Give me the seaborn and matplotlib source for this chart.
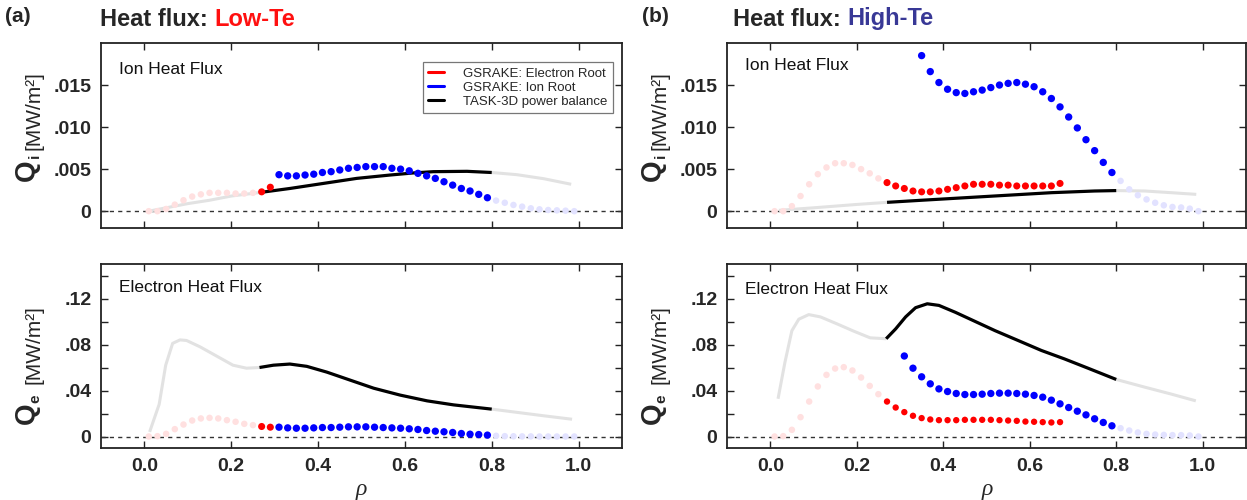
import numpy as np
import pandas as pd
import matplotlib
matplotlib.use("Agg")
import matplotlib.pyplot as plt
import seaborn as sns
from matplotlib.lines import Line2D

# ---------------- data ----------------
RHO_CORE = [0.01, 0.03, 0.05, 0.07, 0.09, 0.11, 0.13, 0.15, 0.17, 0.19, 0.21, 0.23, 0.25]
RHO_EDGE = [0.81, 0.83, 0.85, 0.87, 0.89, 0.91, 0.93, 0.95, 0.97, 0.99]
RHO_ER_A = [0.27, 0.29]
RHO_IR_A = [0.31, 0.33, 0.35, 0.37, 0.39, 0.41, 0.43, 0.45, 0.47, 0.49, 0.51, 0.53, 0.55,
            0.57, 0.59, 0.61, 0.63, 0.65, 0.67, 0.69, 0.71, 0.73, 0.75, 0.77, 0.79]
RHO_ER_B = [0.27, 0.29, 0.31, 0.33, 0.35, 0.37, 0.39, 0.41, 0.43, 0.45, 0.47, 0.49, 0.51,
            0.53, 0.55, 0.57, 0.59, 0.61, 0.63, 0.65, 0.67]
RHO_IR_B_ION = [0.35, 0.37, 0.39, 0.41, 0.43, 0.45, 0.47, 0.49, 0.51, 0.53, 0.55, 0.57,
                0.59, 0.61, 0.63, 0.65, 0.67, 0.69, 0.71, 0.73, 0.75, 0.77, 0.79]
RHO_IR_B_EL = RHO_IR_A

# Panel (a) Low-Te, ion heat flux
a_ion_er_faded = [0, 0, 0.00026, 0.00078, 0.0013, 0.00174, 0.0020, 0.00218, 0.00218, 0.00218, 0.0021, 0.0021, 0.00218]
a_ion_er = [0.0023, 0.00285]
a_ion_ir = [0.00434, 0.0042, 0.0042, 0.0043, 0.0044, 0.0046, 0.0047, 0.0049, 0.0051, 0.0052, 0.0053, 0.0053,
            0.0053, 0.0051, 0.0050, 0.0048, 0.0045, 0.0042, 0.0039, 0.0035, 0.0031, 0.0027, 0.0024, 0.0020, 0.0016]
a_ion_ir_faded = [0.00126, 0.0010, 0.00074, 0.00054, 0.00034, 0.00022, 0.00014, 0.0001, 0.00006, 0]
a_ion_pb_in_rho = [0.01, 0.05, 0.10, 0.15, 0.20, 0.27]
a_ion_pb_in = [0, 0.0004, 0.0009, 0.0013, 0.0018, 0.00225]
a_ion_pb_rho = [0.27, 0.335, 0.412, 0.489, 0.566, 0.62, 0.666, 0.743, 0.80]
a_ion_pb = [0.00225, 0.0027, 0.0033, 0.0039, 0.0043, 0.00455, 0.0047, 0.00474, 0.0046]
a_ion_pb_out_rho = [0.80, 0.858, 0.92, 0.983]
a_ion_pb_out = [0.0046, 0.00434, 0.00386, 0.0032]

# Panel (a) Low-Te, electron heat flux
a_el_er_faded = [0, 0.0003, 0.0023, 0.0064, 0.0104, 0.0139, 0.0157, 0.0162, 0.0157, 0.0142, 0.0128, 0.0110, 0.0099]
a_el_er = [0.0087, 0.0081]
a_el_ir = [0.0081, 0.0075, 0.0072, 0.0072, 0.0075, 0.0078, 0.0078, 0.0081, 0.0084, 0.0084, 0.0084, 0.0081,
           0.0078, 0.0075, 0.0072, 0.0067, 0.0061, 0.0052, 0.0046, 0.0041, 0.0035, 0.0026, 0.0020, 0.0017, 0.0012]
a_el_ir_faded = [0.0006, 0.0003, 0.0002, 0.0001, 0.0001, 0, 0, 0, 0, 0]
a_el_pb_in_rho = [0.012, 0.034, 0.049, 0.065, 0.082, 0.097, 0.128, 0.166, 0.204, 0.235, 0.265]
a_el_pb_in = [0.004, 0.028, 0.062, 0.081, 0.084, 0.0835, 0.078, 0.070, 0.062, 0.0594, 0.060]
a_el_pb_rho = [0.265, 0.297, 0.335, 0.374, 0.42, 0.474, 0.528, 0.589, 0.651, 0.712, 0.80]
a_el_pb = [0.060, 0.062, 0.063, 0.061, 0.056, 0.049, 0.042, 0.036, 0.031, 0.0275, 0.0238]
a_el_pb_out_rho = [0.80, 0.858, 0.92, 0.985]
a_el_pb_out = [0.0238, 0.021, 0.018, 0.015]

# Panel (b) High-Te, ion heat flux
b_ion_er_faded = [0, 0, 0.0006, 0.0018, 0.0032, 0.0044, 0.0052, 0.0057, 0.0057, 0.0055, 0.0050, 0.0045, 0.0039]
b_ion_er = [0.0034, 0.0030, 0.0027, 0.0024, 0.0023, 0.0023, 0.0024, 0.0026, 0.0028, 0.0030, 0.0032,
            0.0032, 0.0032, 0.0031, 0.0031, 0.0030, 0.0030, 0.0030, 0.0030, 0.0030, 0.0033]
b_ion_ir = [0.0185, 0.0166, 0.0153, 0.0145, 0.0141, 0.0140, 0.0142, 0.0144, 0.0147, 0.0150, 0.0152, 0.0153,
            0.0151, 0.0148, 0.0142, 0.0134, 0.0124, 0.0112, 0.0099, 0.0085, 0.0072, 0.0058, 0.0046]
b_ion_ir_faded = [0.0036, 0.0026, 0.0019, 0.0014, 0.0010, 0.0007, 0.0005, 0.00044, 0.0003, 0]
b_ion_pb_in_rho = [0.02, 0.10, 0.20, 0.27]
b_ion_pb_in = [0.0001, 0.0004, 0.0008, 0.00105]
b_ion_pb_rho = [0.27, 0.35, 0.45, 0.55, 0.65, 0.75, 0.80]
b_ion_pb = [0.00105, 0.0013, 0.0016, 0.0019, 0.0022, 0.0024, 0.00245]
b_ion_pb_out_rho = [0.80, 0.866, 0.927, 0.985]
b_ion_pb_out = [0.00245, 0.0024, 0.0022, 0.0020]

# Panel (b) High-Te, electron heat flux
b_el_er_faded = [0, 0.0003, 0.0058, 0.0168, 0.0304, 0.0435, 0.0536, 0.0591, 0.0603, 0.0574, 0.0513, 0.0440, 0.0368]
b_el_er = [0.0304, 0.0252, 0.0212, 0.0180, 0.0160, 0.0148, 0.0142, 0.0142, 0.0142, 0.0145, 0.0145,
           0.0145, 0.0145, 0.0142, 0.0139, 0.0136, 0.0130, 0.0128, 0.0125, 0.0122, 0.0125]
b_el_ir = [0.0700, 0.0594, 0.0519, 0.0458, 0.0414, 0.0391, 0.0374, 0.0365, 0.0365, 0.0368, 0.0374, 0.0377,
           0.0377, 0.0374, 0.0368, 0.0357, 0.0342, 0.0316, 0.0284, 0.0252, 0.0220, 0.0188, 0.0154, 0.0122, 0.0093]
b_el_ir_faded = [0.0072, 0.0052, 0.0035, 0.0023, 0.0017, 0.0014, 0.0012, 0.0012, 0.0009, 0]
b_el_pb_in_rho = [0.018, 0.034, 0.050, 0.066, 0.089, 0.116, 0.154, 0.193, 0.231, 0.268]
b_el_pb_in = [0.0328, 0.0646, 0.092, 0.102, 0.106, 0.104, 0.098, 0.0916, 0.0858, 0.085]
b_el_pb_rho = [0.268, 0.29, 0.313, 0.336, 0.363, 0.39, 0.428, 0.474, 0.52, 0.573, 0.627, 0.68, 0.734, 0.80]
b_el_pb = [0.085, 0.0936, 0.104, 0.112, 0.1154, 0.114, 0.108, 0.100, 0.092, 0.0835, 0.0748, 0.0675, 0.0595, 0.0496]
b_el_pb_out_rho = [0.80, 0.865, 0.926, 0.984]
b_el_pb_out = [0.0496, 0.043, 0.037, 0.031]

X_TICKS = [0.0, 0.2, 0.4, 0.6, 0.8, 1.0]
X_TICKLABELS = ["0.0", "0.2", "0.4", "0.6", "0.8", "1.0"]
ION_TICKS = [0, 0.005, 0.010, 0.015]
ION_TICKLABELS = ["0", ".005", ".010", ".015"]
EL_TICKS = [0, 0.02, 0.04, 0.06, 0.08, 0.10, 0.12, 0.14]
EL_TICKLABELS = ["0", "", ".04", "", ".08", "", ".12", ""]
LEGEND_LABELS = ["GSRAKE: Electron Root", "GSRAKE: Ion Root", "TASK-3D power balance"]

# ---------------- style ----------------
sns.set_theme(style="ticks")
plt.rcParams["font.family"] = ["Liberation Sans", "DejaVu Sans"]

RED = "#ff0000"
BLUE = "#0000ff"
RED_F = "#ffe0e0"
BLUE_F = "#e2e2ff"
GREY = "#e2e2e2"
W, H = 1247, 500

fig = plt.figure(figsize=(W / 100, H / 100), dpi=100)


def add_axes(l, r, t, b):
    return fig.add_axes([l / W, 1 - b / H, (r - l) / W, (b - t) / H])


ax_a_ion = add_axes(101, 622, 43, 228)
ax_a_el = add_axes(101, 622, 264, 448)
ax_b_ion = add_axes(727, 1246, 43, 228)
ax_b_el = add_axes(727, 1246, 264, 448)


def line(ax, x, y, color, lw):
    sns.lineplot(x=x, y=y, ax=ax, color=color, lw=lw, estimator=None, sort=False,
                 solid_capstyle="butt", zorder=2)


def dots(ax, x, y, color, s, z=3):
    sns.scatterplot(x=x, y=y, ax=ax, color=color, s=s, linewidth=0, edgecolor="none", zorder=z)


def panel(ax, pin, pb, pout, erf, er, ir, irf, rho_er, rho_ir, ylim, ticks, ticklabels,
          label, ly, bottom, er_size=26):
    ax.axhline(0, color="#333333", lw=1.0, ls=(0, (3, 3)), zorder=1)
    line(ax, pin[0], pin[1], GREY, 2.2)
    line(ax, pout[0], pout[1], GREY, 2.2)
    line(ax, pb[0], pb[1], "black", 2.3)
    dots(ax, RHO_CORE, erf, RED_F, 22)
    dots(ax, RHO_EDGE, irf, BLUE_F, 22)
    dots(ax, rho_er, er, RED, er_size, 4)
    dots(ax, rho_ir, ir, BLUE, 28, 4)
    ax.set_xlim(-0.1, 1.1)
    ax.set_ylim(*ylim)
    ax.set_xticks(X_TICKS)
    ax.set_yticks(ticks)
    ax.set_yticklabels(ticklabels)
    if bottom:
        ax.set_xticklabels(X_TICKLABELS)
    else:
        ax.set_xticklabels([])
    ax.set_xlabel("")
    ax.set_ylabel("")
    ax.tick_params(direction="in", length=5, width=1.0, top=True, right=True,
                   labelsize=14, pad=7, color="#222222")
    for t in ax.get_xticklabels() + ax.get_yticklabels():
        t.set_fontweight("bold")
    for sp in ax.spines.values():
        sp.set_visible(True)
        sp.set_linewidth(1.3)
        sp.set_color("#222222")
    ax.text(0.034, ly, label, transform=ax.transAxes, fontsize=12.5, va="center", ha="left",
            color="#111111")


panel(ax_a_ion, (a_ion_pb_in_rho, a_ion_pb_in), (a_ion_pb_rho, a_ion_pb), (a_ion_pb_out_rho, a_ion_pb_out),
      a_ion_er_faded, a_ion_er, a_ion_ir, a_ion_ir_faded, RHO_ER_A, RHO_IR_A,
      (-0.002, 0.02), ION_TICKS, ION_TICKLABELS, "Ion Heat Flux", 0.855, False)
panel(ax_a_el, (a_el_pb_in_rho, a_el_pb_in), (a_el_pb_rho, a_el_pb), (a_el_pb_out_rho, a_el_pb_out),
      a_el_er_faded, a_el_er, a_el_ir, a_el_ir_faded, RHO_ER_A, RHO_IR_A,
      (-0.01, 0.15), EL_TICKS, EL_TICKLABELS, "Electron Heat Flux", 0.875, True)
panel(ax_b_ion, (b_ion_pb_in_rho, b_ion_pb_in), (b_ion_pb_rho, b_ion_pb), (b_ion_pb_out_rho, b_ion_pb_out),
      b_ion_er_faded, b_ion_er, b_ion_ir, b_ion_ir_faded, RHO_ER_B, RHO_IR_B_ION,
      (-0.002, 0.02), ION_TICKS, ION_TICKLABELS, "Ion Heat Flux", 0.876, False)
panel(ax_b_el, (b_el_pb_in_rho, b_el_pb_in), (b_el_pb_rho, b_el_pb), (b_el_pb_out_rho, b_el_pb_out),
      b_el_er_faded, b_el_er, b_el_ir, b_el_ir_faded, RHO_ER_B, RHO_IR_B_EL,
      (-0.01, 0.15), EL_TICKS, EL_TICKLABELS, "Electron Heat Flux", 0.86, True, er_size=21)

# legend
handles = [Line2D([], [], color=RED, lw=2.2), Line2D([], [], color=BLUE, lw=2.2),
           Line2D([], [], color="black", lw=2.2)]
leg = ax_a_ion.legend(handles, LEGEND_LABELS, loc="upper right", bbox_to_anchor=(0.983, 0.897),
                      fontsize=9.5, frameon=True, fancybox=False, handlelength=1.2,
                      handletextpad=1.5, labelspacing=0.15, borderpad=0.4, borderaxespad=0)
leg.get_frame().set_edgecolor("#555555")
leg.get_frame().set_linewidth(0.9)


# y labels: big bold Q, small bold subscript, unit text
def ylab(dx, yq, yb, sub):
    fig.text((27 + dx) / W, 1 - yq / H, "Q", rotation=90, fontsize=20, fontweight="bold",
             ha="center", va="center")
    fig.text((35 + dx) / W, 1 - (yq - 14) / H, sub, rotation=90, fontsize=11, fontweight="bold",
             ha="center", va="center")
    fig.text((34 + dx) / W, 1 - yb / H, "[MW/m²]", rotation=90, fontsize=15,
             ha="center", va="center")


ylab(0, 170, 111, "i")
ylab(0, 413, 345, "e")
ylab(626, 170, 111, "i")
ylab(626, 413, 345, "e")

# x labels
for xc in (361, 987):
    fig.text(xc / W, 1 - 489 / H, "ρ", fontsize=17, fontstyle="italic",
             family=["Liberation Serif", "DejaVu Serif"], ha="center", va="center")

# titles
fig.text(5 / W, 1 - 17 / H, "(a)", fontsize=15, fontweight="bold", ha="left", va="center")
fig.text(642 / W, 1 - 17 / H, "(b)", fontsize=15, fontweight="bold", ha="left", va="center")
t1 = fig.text(100 / W, 1 - 19 / H, "Heat flux:", fontsize=17, fontweight="bold", ha="left", va="center")
t2 = fig.text(733 / W, 1 - 19 / H, "Heat flux:", fontsize=17, fontweight="bold", ha="left", va="center")
ax_a_ion.annotate("Low-Te", xy=(1, 0.5), xycoords=t1, xytext=(5, 0), textcoords="offset points",
                  fontsize=17, fontweight="bold", color="#ff1010", ha="left", va="center",
                  annotation_clip=False)
ax_b_ion.annotate("High-Te", xy=(1, 0.5), xycoords=t2, xytext=(5, 0), textcoords="offset points",
                  fontsize=17, fontweight="bold", color="#383896", ha="left", va="center",
                  annotation_clip=False)

fig.savefig("out.png", dpi=100)
